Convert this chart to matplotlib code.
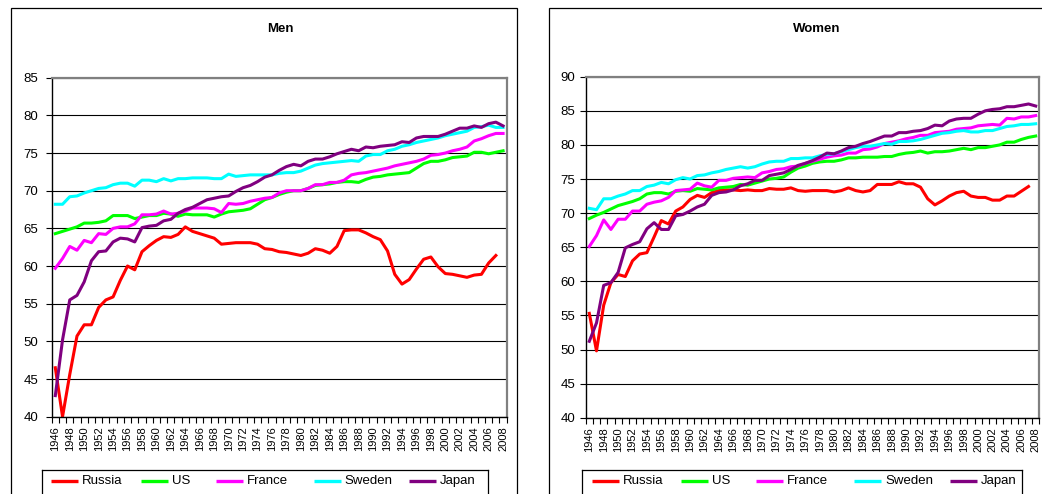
import numpy as np
import matplotlib
matplotlib.use('Agg')
import matplotlib.pyplot as plt
from matplotlib.patches import Rectangle

plt.rcParams['font.family'] = ['Liberation Sans', 'DejaVu Sans']

years = list(range(1946, 2009))
nan = np.nan

# Men
russia_men = [46.5, 40.0, 45.6, 50.7, 52.2, 52.2, 54.5, 55.5, 55.9, 58.1,
              60.0, 59.5, 61.9, 62.7, 63.4, 63.9, 63.8, 64.2, 65.2, 64.6,
              64.3, 64.0, 63.7, 62.9, 63.0, 63.1, 63.1, 63.1, 62.9, 62.3,
              62.2, 61.9, 61.8, 61.6, 61.4, 61.7, 62.3, 62.1, 61.7, 62.6,
              64.7, 64.8, 64.8, 64.4, 63.9, 63.5, 62.0, 58.9, 57.6, 58.2,
              59.6, 60.9, 61.2, 59.9, 59.0, 58.9, 58.7, 58.5, 58.8, 58.9,
              60.4, 61.4, nan]
us_men = [64.3, 64.6, 64.9, 65.2, 65.7, 65.7, 65.8, 66.0, 66.7, 66.7,
          66.7, 66.3, 66.5, 66.7, 66.7, 67.0, 66.9, 66.6, 66.9, 66.8,
          66.8, 66.8, 66.5, 66.9, 67.2, 67.3, 67.4, 67.6, 68.2, 68.8,
          69.1, 69.5, 69.8, 70.0, 70.0, 70.3, 70.7, 70.8, 70.9, 71.1,
          71.2, 71.2, 71.1, 71.5, 71.8, 71.9, 72.1, 72.2, 72.3, 72.4,
          73.0, 73.6, 73.9, 73.9, 74.1, 74.4, 74.5, 74.6, 75.1, 75.1,
          74.9, 75.1, 75.3]
france_men = [59.7, 61.0, 62.6, 62.1, 63.4, 63.1, 64.3, 64.2, 65.0, 65.2,
              65.2, 65.6, 66.8, 66.8, 66.9, 67.3, 66.9, 67.0, 67.3, 67.7,
              67.7, 67.7, 67.6, 67.1, 68.3, 68.2, 68.3, 68.6, 68.8, 69.0,
              69.1, 69.7, 70.0, 70.0, 70.0, 70.3, 70.8, 70.8, 71.1, 71.1,
              71.4, 72.1, 72.3, 72.4, 72.6, 72.8, 73.0, 73.3, 73.5, 73.7,
              73.9, 74.2, 74.7, 74.8, 75.0, 75.3, 75.5, 75.8, 76.6, 76.9,
              77.3, 77.6, 77.6]
sweden_men = [68.2, 68.2, 69.2, 69.3, 69.7, 70.0, 70.3, 70.4, 70.8, 71.0,
              71.0, 70.6, 71.4, 71.4, 71.2, 71.6, 71.3, 71.6, 71.6, 71.7,
              71.7, 71.7, 71.6, 71.6, 72.2, 71.9, 72.0, 72.1, 72.1, 72.1,
              72.1, 72.3, 72.4, 72.4, 72.6, 73.0, 73.4, 73.6, 73.7, 73.8,
              73.9, 74.0, 73.9, 74.6, 74.8, 74.8, 75.3, 75.5, 75.9, 76.1,
              76.4, 76.6, 76.8, 77.0, 77.3, 77.5, 77.7, 77.9, 78.4, 78.5,
              78.7, 78.4, 78.4]
japan_men = [42.8, 50.2, 55.5, 56.1, 57.9, 60.7, 61.9, 62.0, 63.2, 63.7,
             63.6, 63.2, 65.1, 65.3, 65.4, 66.0, 66.2, 67.0, 67.5, 67.8,
             68.3, 68.8, 69.0, 69.2, 69.3, 69.9, 70.4, 70.7, 71.2, 71.8,
             72.1, 72.7, 73.2, 73.5, 73.3, 73.9, 74.2, 74.2, 74.5, 74.9,
             75.2, 75.5, 75.3, 75.8, 75.7, 75.9, 76.0, 76.1, 76.5, 76.4,
             77.0, 77.2, 77.2, 77.2, 77.5, 77.9, 78.3, 78.3, 78.6, 78.4,
             78.9, 79.1, 78.6]

# Women
russia_women = [55.3, 49.8, 56.5, 59.8, 61.0, 60.7, 63.0, 64.0, 64.2, 66.5,
                68.9, 68.4, 70.3, 70.9, 72.0, 72.6, 72.3, 73.0, 73.3, 73.4,
                73.4, 73.3, 73.4, 73.3, 73.3, 73.6, 73.5, 73.5, 73.7, 73.3,
                73.2, 73.3, 73.3, 73.3, 73.1, 73.3, 73.7, 73.3, 73.1, 73.3,
                74.2, 74.2, 74.2, 74.6, 74.3, 74.3, 73.8, 72.1, 71.2, 71.8,
                72.5, 73.0, 73.2, 72.5, 72.3, 72.3, 71.9, 71.9, 72.5, 72.5,
                73.2, 73.9, nan]
us_women = [69.2, 69.7, 70.1, 70.6, 71.1, 71.4, 71.7, 72.1, 72.8, 73.0,
            73.0, 72.8, 73.2, 73.3, 73.2, 73.6, 73.5, 73.4, 73.7, 73.8,
            73.9, 74.2, 74.1, 74.4, 74.7, 75.0, 75.1, 75.3, 76.0, 76.6,
            76.9, 77.3, 77.5, 77.6, 77.6, 77.8, 78.1, 78.1, 78.2, 78.2,
            78.2, 78.3, 78.3, 78.6, 78.8, 78.9, 79.1, 78.8, 79.0, 79.0,
            79.1, 79.3, 79.5, 79.3, 79.6, 79.6, 79.8, 80.0, 80.4, 80.4,
            80.8, 81.1, 81.3]
france_women = [65.1, 66.7, 69.0, 67.6, 69.1, 69.1, 70.3, 70.3, 71.3, 71.6,
                71.8, 72.3, 73.3, 73.4, 73.5, 74.4, 74.0, 73.8, 74.8, 74.8,
                75.1, 75.2, 75.3, 75.2, 75.9, 76.1, 76.4, 76.5, 76.8, 76.9,
                77.3, 77.6, 77.9, 78.2, 78.4, 78.5, 78.8, 78.8, 79.3, 79.4,
                79.7, 80.2, 80.4, 80.6, 80.9, 81.1, 81.4, 81.4, 81.8, 81.9,
                82.0, 82.3, 82.4, 82.5, 82.8, 82.9, 83.0, 82.9, 83.9, 83.8,
                84.1, 84.1, 84.3]
sweden_women = [70.7, 70.5, 72.1, 72.1, 72.5, 72.8, 73.3, 73.3, 73.9, 74.1,
                74.5, 74.3, 74.9, 75.2, 75.0, 75.5, 75.6, 75.9, 76.1, 76.4,
                76.6, 76.8, 76.6, 76.8, 77.2, 77.5, 77.6, 77.6, 78.0, 78.0,
                78.1, 78.1, 78.4, 78.6, 78.7, 79.0, 79.3, 79.6, 79.8, 79.8,
                80.0, 80.2, 80.1, 80.5, 80.5, 80.6, 80.8, 81.1, 81.4, 81.7,
                81.8, 82.0, 82.1, 81.9, 81.9, 82.1, 82.1, 82.4, 82.7, 82.8,
                83.0, 83.0, 83.1]
japan_women = [51.2, 53.9, 59.4, 59.8, 61.3, 64.9, 65.4, 65.8, 67.7, 68.6,
               67.6, 67.6, 69.6, 69.8, 70.3, 70.9, 71.3, 72.6, 73.0, 73.1,
               73.4, 74.0, 74.3, 74.8, 74.8, 75.5, 75.7, 75.9, 76.4, 77.0,
               77.3, 77.7, 78.2, 78.8, 78.7, 79.1, 79.6, 79.8, 80.2, 80.5,
               80.9, 81.3, 81.3, 81.8, 81.8, 82.0, 82.1, 82.4, 82.9, 82.8,
               83.5, 83.8, 83.9, 83.9, 84.5, 85.0, 85.2, 85.3, 85.6, 85.6,
               85.8, 86.0, 85.7]

countries = ['Russia', 'US', 'France', 'Sweden', 'Japan']
colors = ['#FF0000', '#00FF00', '#FF00FF', '#00FFFF', '#800080']

W, H = 1042, 494


def px_box(x0, y0, x1, y1):
    # pixel box (from top-left) -> figure fraction rect
    return [x0 / W, 1 - y1 / H, (x1 - x0) / W, (y1 - y0) / H]


def draw_panel(ax, title, series, ymax, ypad, title_x):
    for vals, col in zip(series, colors):
        ax.plot(years, vals, color=col, lw=2.2, solid_joinstyle='round')
    ax.set_xlim(1945.5, 2008.5)
    ax.set_ylim(40, ymax)
    ax.set_yticks(range(40, ymax + 1, 5))
    ax.yaxis.grid(True, color='black', lw=0.8)
    ax.set_axisbelow(True)
    ax.set_xticks(years[::2])
    ax.set_xticklabels([str(y) for y in years[::2]], rotation=90, fontsize=8)
    ax.set_xticks(np.arange(1945.5, 2009, 1), minor=True)
    ax.tick_params(axis='x', which='major', length=0, pad=7)
    ax.tick_params(axis='x', which='minor', length=4, width=0.8, direction='out')
    ax.tick_params(axis='y', length=4.5, width=0.8, direction='out', pad=ypad, labelsize=9.5)
    for s in ['left', 'bottom']:
        ax.spines[s].set_color('black')
        ax.spines[s].set_linewidth(1.0)
    for s in ['top', 'right']:
        ax.spines[s].set_color('#808080')
        ax.spines[s].set_linewidth(1.6)
    fig.text(title_x / W, 1 - 29 / H, title, ha='center', va='center',
             fontsize=9.5, fontweight='bold')


def draw_legend(x0, x1, y0):
    # boxed legend below the panel, bottom edge runs off the picture
    lax = fig.add_axes(px_box(x0, y0, x1, 500))
    lax.set_xlim(0, x1 - x0)
    lax.set_ylim(500 - y0, 0)
    lax.set_xticks([])
    lax.set_yticks([])
    for s in lax.spines.values():
        s.set_color('black')
        s.set_linewidth(0.9)
    offsets = [9.5, 99, 174, 272, 367.5]
    yc = 480.5 - y0
    for off, name, col in zip(offsets, countries, colors):
        lax.plot([off, off + 27], [yc, yc], color=col, lw=2.4, solid_capstyle='butt')
        lax.text(off + 31, yc, name, fontsize=9.5, va='center', ha='left')


fig = plt.figure(figsize=(W / 100, H / 100), dpi=100)

# outer frames of the two chart objects
fig.patches.append(Rectangle((10.5 / W, -0.1), (517 - 10.5) / W, 1.1 - 8.5 / H,
                             transform=fig.transFigure, fill=False,
                             edgecolor='black', lw=0.9))
fig.patches.append(Rectangle((549 / W, -0.1), 0.5, 1.1 - 8.5 / H,
                             transform=fig.transFigure, fill=False,
                             edgecolor='black', lw=0.9))

ax_m = fig.add_axes(px_box(51.7, 77.7, 506.7, 416.7))
ax_w = fig.add_axes(px_box(585.7, 76.7, 1039.3, 417.7))

draw_panel(ax_m, 'Men', [russia_men, us_men, france_men, sweden_men, japan_men],
           85, 5.0, 280)
draw_panel(ax_w, 'Women', [russia_women, us_women, france_women, sweden_women, japan_women],
           90, 3.0, 817)

draw_legend(41.6, 488, 469.5)
draw_legend(582.3, 1022.3, 469.5)

plt.savefig('out.png', dpi=100)
